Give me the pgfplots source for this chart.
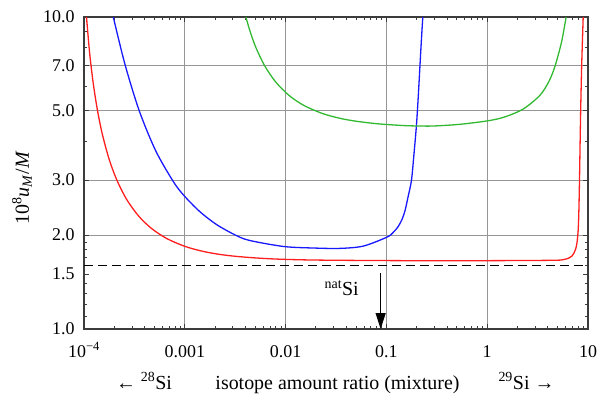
\documentclass[border=0pt]{standalone}
\usepackage{fontspec}
\setmainfont{Liberation Serif}
\usepackage{pgfplots}
\pgfplotsset{compat=1.18}
\usetikzlibrary{arrows.meta}
\definecolor{cred}{RGB}{255,30,30}
\definecolor{cblue}{RGB}{25,25,255}
\definecolor{cgreen}{RGB}{50,185,50}
\definecolor{cgrid}{RGB}{150,150,150}
\definecolor{cframe}{RGB}{60,60,60}
\begin{document}
\begin{tikzpicture}
\useasboundingbox (-84bp,-66bp) rectangle (525bp,329bp);
\begin{axis}[
  at={(0,0)}, anchor=south west,
  scale only axis, width=504bp, height=312bp,
  xmode=log, ymode=log,
  xmin=1e-4, xmax=10, ymin=1, ymax=10,
  xtick={1e-4,1e-3,1e-2,1e-1,1,10},
  xticklabels={10\textsuperscript{−4},0.001,0.01,0.1,1,10},
  minor xtick={2e-4,3e-4,4e-4,5e-4,6e-4,7e-4,8e-4,9e-4,
    2e-3,3e-3,4e-3,5e-3,6e-3,7e-3,8e-3,9e-3,
    0.02,0.03,0.04,0.05,0.06,0.07,0.08,0.09,
    0.2,0.3,0.4,0.5,0.6,0.7,0.8,0.9,2,3,4,5,6,7,8,9},
  ytick={1,2,3,5,7,10},
  yticklabels={1.0,2.0,3.0,5.0,7.0,10.0},
  extra y ticks={1.5}, extra y tick labels={1.5},
  extra y tick style={grid=none},
  minor ytick={1.1,1.2,1.3,1.4,1.6,1.7,1.8,1.9,4,6,8,9},
  xmajorgrids, ymajorgrids,
  grid style={cgrid, line width=1.1bp},
  axis line style={cframe, line width=1.5bp},
  tick style={cframe, line width=0.9bp},
  major tick length=5bp, minor tick length=3bp,
  tick align=inside,
  tick label style={font=\fontsize{18}{21}\selectfont},
  xticklabel style={anchor=base, yshift=-28bp},
  yticklabel style={xshift=-6bp},
]
\addplot[black, line width=1.1bp, dash pattern=on 9bp off 5bp] coordinates {(1e-4,1.595) (10,1.595)};
\addplot[cred, line width=1.3bp, smooth] coordinates {
(1.059e-4,10) (1.1232e-4,8) (1.1734e-4,7) (1.2465e-4,6) (1.3635e-4,5)
(1.5233e-4,4.2) (1.7767e-4,3.5) (2.1192e-4,3.0) (2.6542e-4,2.6) (3.491e-4,2.3)
(4.6755e-4,2.1) (6.618e-4,1.95) (1e-3,1.841) (1.5e-3,1.775) (2.2e-3,1.735)
(3.2e-3,1.710) (5e-3,1.690) (8e-3,1.676) (0.015,1.666) (0.03,1.661) (0.1,1.657)
(0.3,1.655) (1,1.656) (2.5,1.658) (4,1.660) (5.275,1.663) (5.911,1.673)
(6.478,1.689) (6.939,1.714) (7.263,1.752) (7.516,1.798) (7.725,1.866)
(7.885,1.965) (8.013,2.108) (8.123,2.406) (8.235,3.0) (8.444,4.852)
(8.660,7.016) (8.963,10)};
\addplot[cblue, line width=1.3bp, smooth] coordinates {
(1.953e-4,10) (2.551e-4,7.047) (3.537e-4,5.0) (5.143e-4,3.728) (7.687e-4,2.970)
(9.820e-4,2.677) (1.415e-3,2.375) (2.101e-3,2.154) (3.295e-3,1.989) (4.507e-3,1.919)
(9.640e-3,1.838) (0.01883,1.818) (0.03465,1.813) (0.05899,1.844) (0.1009,1.969)
(0.1163,2.037) (0.1303,2.125) (0.1428,2.244) (0.1529,2.393) (0.1637,2.643)
(0.1774,3.0) (0.1878,3.638) (0.1988,4.507) (0.2072,5.581) (0.2144,6.813)
(0.2219,8.317) (0.2297,10)};
\addplot[cgreen, line width=1.3bp, smooth] coordinates {
(4.039e-3,10) (4.439e-3,9) (5.061e-3,8) (6.167e-3,7) (7.945e-3,6.2)
(0.010861,5.6) (0.015297,5.2) (0.023477,4.9) (0.035,4.731) (0.05,4.634)
(0.075,4.560) (0.1,4.524) (0.15,4.487) (0.2,4.475) (0.2919,4.473)
(0.5372,4.530) (1.0185,4.649) (1.502,4.786) (2.281,5.072) (3.341,5.615)
(4.104,6.225) (4.706,6.955) (5.484,8.354) (6.063,10)};
\draw[-{Triangle[length=16bp,width=10bp]}, line width=1.2bp] (axis cs:0.0877,1.508) -- (axis cs:0.0877,1);
\node[font=\fontsize{20}{24}\selectfont] at (axis cs:0.036,1.353) {\textsuperscript{nat}Si};
\end{axis}
\begin{scope}[font=\fontsize{20}{24}\selectfont]
\node[anchor=base] at (253.5bp,-60bp) {isotope amount ratio (mixture)};
\node[anchor=base] at (60bp,-60bp) {← \textsuperscript{28}Si};
\node[anchor=base] at (442.5bp,-60bp) {\textsuperscript{29}Si →};
\node[rotate=90] at (-62bp,141bp) {10\textsuperscript{8}\textit{u}\textsubscript{\textit{M}}/\textit{M}};
\end{scope}
\end{tikzpicture}
\end{document}
